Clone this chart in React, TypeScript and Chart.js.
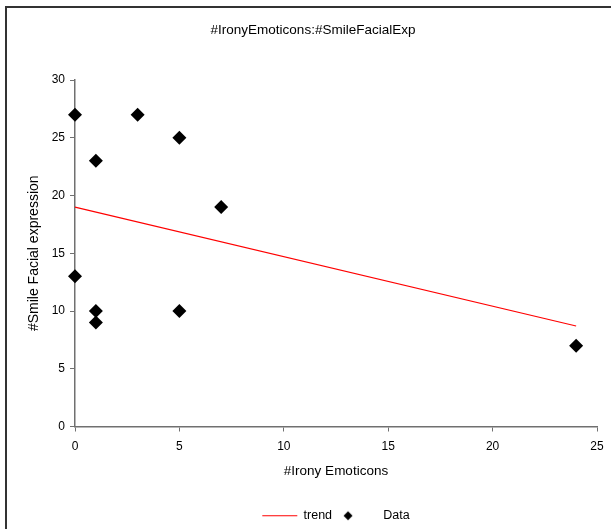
import React, { useEffect, useRef } from 'react';
import { Chart, registerables } from 'chart.js';

Chart.register(...registerables);

const chartTitle = '#IronyEmoticons:#SmileFacialExp';
const xAxisTitle = '#Irony Emoticons';
const yAxisTitle = '#Smile Facial expression';
const seriesNames = ['trend', 'Data'];

const dataX = [0, 1, 3, 5, 7, 0, 1, 1, 5, 24];
const dataY = [27, 23, 27, 25, 19, 13, 10, 9, 10, 7];

const trendX = [0, 24];
const trendY = [19, 8.7];

const xTicks = [0, 5, 10, 15, 20, 25];
const yTicks = [0, 5, 10, 15, 20, 25, 30];

const FONT = '"Liberation Sans", Arial, Helvetica, sans-serif';
const AXIS_COLOR = '#707070';

function makeDiamond(): HTMLCanvasElement {
  const c = document.createElement('canvas');
  c.width = 35;
  c.height = 12;
  const g = c.getContext('2d')!;
  g.fillStyle = '#000';
  g.beginPath();
  g.moveTo(6, 1.5);
  g.lineTo(10.5, 6);
  g.lineTo(6, 10.5);
  g.lineTo(1.5, 6);
  g.closePath();
  g.fill();
  return c;
}

export default function App() {
  const ref = useRef<HTMLCanvasElement>(null);

  useEffect(() => {
    if (!ref.current) return;
    const diamond = makeDiamond();
    const scatterPoints = dataX.map((x, i) => ({ x, y: dataY[i] }));
    const trendPoints = trendX.map((x, i) => ({ x, y: trendY[i] }));

    const chart = new Chart(ref.current, {
      type: 'scatter',
      data: {
        datasets: [
          {
            type: 'line',
            label: seriesNames[0],
            data: trendPoints,
            borderColor: '#ff0000',
            borderWidth: 1.2,
            pointRadius: 0,
            pointHoverRadius: 0,
            pointStyle: 'line',
            pointBorderColor: '#ff0000',
            fill: false,
            clip: false,
          } as any,
          {
            type: 'scatter',
            label: seriesNames[1],
            data: scatterPoints,
            pointStyle: 'rectRot',
            pointRadius: 7,
            pointHoverRadius: 7,
            backgroundColor: '#000',
            borderColor: '#000',
            borderWidth: 0,
            clip: false,
          } as any,
        ],
      },
      options: {
        animation: false,
        responsive: false,
        events: [],
        layout: { padding: { left: 15, right: 0, top: 0, bottom: -3 } },
        font: { family: FONT },
        plugins: {
          tooltip: { enabled: false },
          title: {
            display: true,
            text: chartTitle,
            color: '#000',
            font: { family: FONT, size: 13.5, weight: 'normal' },
            padding: { top: 22, bottom: 41.8 },
          },
          legend: {
            display: true,
            position: 'bottom',
            fullSize: false,
            labels: {
              usePointStyle: true,
              pointStyleWidth: 35,
              padding: 10,
              color: '#000',
              font: { family: FONT, size: 12.5 },
              generateLabels: (c: any) => {
                const items = (Chart.defaults as any).plugins.legend.labels.generateLabels(c);
                items.forEach((it: any) => {
                  if (it.datasetIndex === 0) {
                    it.pointStyle = 'line';
                    it.strokeStyle = '#ff0000';
                    it.lineWidth = 1.2;
                  } else {
                    it.pointStyle = diamond;
                  }
                });
                return items;
              },
            },
          },
        },
        scales: {
          x: {
            type: 'linear',
            min: xTicks[0],
            max: xTicks[xTicks.length - 1],
            afterBuildTicks: (s: any) => {
              s.ticks = xTicks.map((v) => ({ value: v }));
            },
            ticks: {
              color: '#000',
              font: { family: FONT, size: 12 },
              padding: 8,
            },
            grid: {
              drawOnChartArea: false,
              drawTicks: true,
              tickLength: 5,
              color: AXIS_COLOR,
            },
            border: { display: true, color: AXIS_COLOR, width: 1.5 },
            title: {
              display: true,
              text: xAxisTitle,
              color: '#000',
              font: { family: FONT, size: 13.5 },
              padding: { top: 4, bottom: 20 },
            },
            afterFit: (s: any) => {
              s.height = 73;
              s.paddingRight = 14;
            },
          },
          y: {
            type: 'linear',
            min: yTicks[0],
            max: yTicks[yTicks.length - 1],
            afterBuildTicks: (s: any) => {
              s.ticks = yTicks.map((v) => ({ value: v }));
            },
            ticks: {
              color: '#000',
              font: { family: FONT, size: 12 },
              padding: 5,
            },
            grid: {
              drawOnChartArea: false,
              drawTicks: true,
              tickLength: 5,
              color: AXIS_COLOR,
            },
            border: { display: true, color: AXIS_COLOR, width: 1.5 },
            title: {
              display: true,
              text: yAxisTitle,
              color: '#000',
              font: { family: FONT, size: 14 },
              padding: { top: 11, bottom: 4 },
            },
            afterFit: (s: any) => {
              s.width = 60;
            },
          },
        },
      } as any,
    });
    return () => chart.destroy();
  }, []);

  return (
    <div
      style={{
        position: 'fixed',
        left: 0,
        top: 0,
        width: 611,
        height: 529,
        overflow: 'hidden',
        background: '#fff',
      }}
    >
      <div
        style={{
          position: 'absolute',
          left: 5,
          top: 6,
          width: 700,
          height: 700,
          borderTop: '2px solid #333',
          borderLeft: '2px solid #333',
          boxSizing: 'border-box',
        }}
      />
      <canvas
        ref={ref}
        width={611}
        height={529}
        style={{ position: 'absolute', left: 0, top: 0, width: 611, height: 529 }}
      />
    </div>
  );
}
